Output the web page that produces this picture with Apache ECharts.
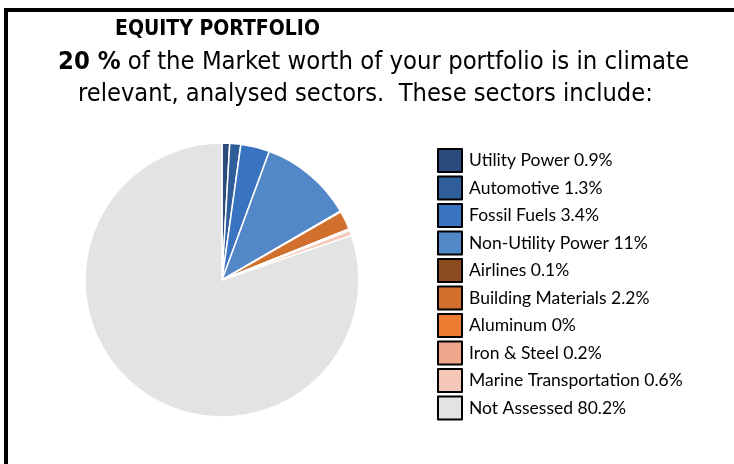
<!DOCTYPE html>
<html>
<head>
<meta charset="utf-8">
<script src="https://cdn.jsdelivr.net/npm/echarts@6/dist/echarts.min.js"></script>
<style>
  html, body { margin: 0; padding: 0; background: #fff; }
  #chart { width: 734px; height: 464px; }
</style>
</head>
<body>
<div id="chart"></div>
<script>
// sectors and their share of market worth (%)
const sectors = ['Utility Power', 'Automotive', 'Fossil Fuels', 'Non-Utility Power', 'Airlines',
  'Building Materials', 'Aluminum', 'Iron & Steel', 'Marine Transportation', 'Not Assessed']
const shares = [0.9, 1.3, 3.4, 11, 0.1, 2.2, 0, 0.2, 0.6, 80.2]
const colors = ['#294c7d', '#2f5e9b', '#3a73bf', '#5388c8', '#8c4a1f',
  '#d0702c', '#ed7d31', '#f0a88c', '#f5c8b9', '#e3e3e3']
const analysedShare = 20

const chart = echarts.init(document.getElementById('chart'))
const titleFont = '"DejaVu Sans Condensed", sans-serif'

chart.setOption({
  animation: false,
  color: colors,
  graphic: [
    {
      type: 'rect',
      shape: { x: 6, y: 10, width: 800, height: 600 },
      style: { fill: 'none', stroke: '#000', lineWidth: 4 },
      silent: true
    },
    {
      type: 'text',
      left: 115,
      top: 19,
      style: { text: 'EQUITY PORTFOLIO', font: 'bold 21px ' + titleFont, fill: '#000' }
    },
    {
      type: 'text',
      left: 58,
      top: 50,
      style: {
        text: '{b|' + analysedShare + ' %} of the Market worth of your portfolio is in climate',
        font: '25.4px ' + titleFont,
        fill: '#000',
        rich: {
          b: { font: 'bold 25.4px ' + titleFont, fill: '#000' }
        }
      }
    },
    {
      type: 'text',
      left: 78,
      top: 82,
      style: { text: 'relevant, analysed sectors.  These sectors include:', font: '25.2px ' + titleFont, fill: '#000' }
    }
  ],
  legend: {
    orient: 'vertical',
    left: 437,
    top: 148,
    padding: 0,
    icon: 'rect',
    itemWidth: 24,
    itemHeight: 23,
    itemGap: 2.5,
    selectedMode: false,
    itemStyle: { borderColor: '#000', borderWidth: 2 },
    textStyle: { fontFamily: 'Lato', fontSize: 17.5, lineHeight: 18, color: '#000', padding: [0, 0, 0, 2] },
    formatter: function (name) {
      return name + ' ' + shares[sectors.indexOf(name)] + '%'
    },
    data: sectors
  },
  series: [
    {
      type: 'pie',
      center: [222, 280],
      radius: 137,
      startAngle: 90,
      clockwise: true,
      label: { show: false },
      labelLine: { show: false },
      emphasis: { disabled: true },
      itemStyle: { borderColor: '#fff', borderWidth: 1.5 },
      data: sectors.map((s, i) => ({ name: s, value: shares[i] }))
    }
  ]
})
</script>
</body>
</html>
